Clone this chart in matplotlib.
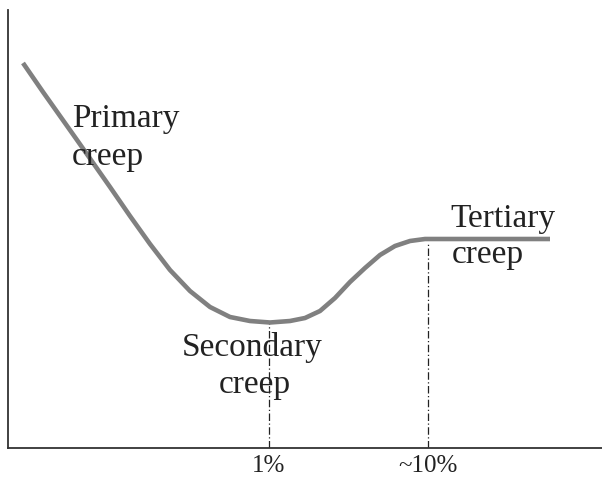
import numpy as np
import matplotlib
matplotlib.use("Agg")
import matplotlib.pyplot as plt

# curve (x, height above axis)
curve_x = [23, 43, 77, 110, 130, 150, 170, 190, 210, 230, 250, 270, 290,
           305, 320, 335, 350, 365, 380, 395, 410, 425, 550]
curve_y = [385, 356, 308, 261, 232, 204, 178, 157, 141, 131, 127, 125.5, 127,
           130, 137, 150, 166, 180, 193, 202, 207, 209, 209]

tick_pos = [269, 428]
tick_labels = ["1%", "~10%"]
vline_tops = [124, 205]

# one entry per text line: text, x, baseline height, alignment
label_lines = ["Primary", "creep", "Secondary", "creep", "Tertiary", "creep"]
label_x = [72, 72, 252, 255, 450, 452]
label_y = [321, 283, 92, 55, 221, 185]
label_ha = ["left", "left", "center", "center", "left", "left"]

plt.rcParams['font.family'] = ['Liberation Serif', 'DejaVu Serif']

fig = plt.figure(figsize=(6.02, 4.79), dpi=100)
ax = fig.add_axes([8/602, 31/479, 1 - 8/602, 438/479])
ax.set_xlim(8, 602)
ax.set_ylim(0, 438)

ax.plot(curve_x, curve_y, color="#808080", lw=3.3, solid_capstyle="butt",
        solid_joinstyle="round")

for x, top in zip(tick_pos, vline_tops):
    ax.plot([x, x], [0, top], color="#222222", lw=0.9, ls="-.", dashes=(6, 2, 1, 2))

for txt, x, y, ha in zip(label_lines, label_x, label_y, label_ha):
    ax.text(x, y, txt, ha=ha, va="baseline", fontsize=24, color="#222222")

ax.set_xticks(tick_pos)
ax.set_xticklabels(tick_labels, fontsize=18, color="#222222")
ax.tick_params(axis="x", length=0, pad=5)
ax.set_yticks([])

for s in ["top", "right"]:
    ax.spines[s].set_visible(False)
for s in ["left", "bottom"]:
    ax.spines[s].set_color("#333333")
    ax.spines[s].set_linewidth(1.3)

fig.savefig("out.png", dpi=100)
